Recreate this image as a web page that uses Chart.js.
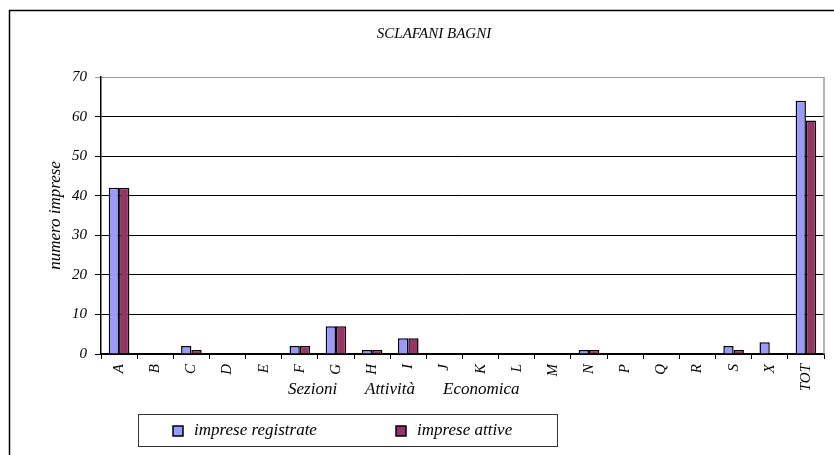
<!DOCTYPE html>
<html>
<head>
<meta charset="utf-8">
<title>SCLAFANI BAGNI</title>
<script src="https://cdn.jsdelivr.net/npm/chart.js@4"></script>
<style>
  html, body { margin: 0; padding: 0; background: #ffffff; }
  #wrap { width: 834px; height: 455px; }
</style>
</head>
<body>
<div id="wrap"><canvas id="chart" width="834" height="455"></canvas></div>
<script>
// Sezioni di attivita economica
const categories = ['A', 'B', 'C', 'D', 'E', 'F', 'G', 'H', 'I', 'J', 'K', 'L', 'M', 'N', 'P', 'Q', 'R', 'S', 'X', 'TOT'];

// numero imprese
const impreseRegistrate = [42, 0, 2, 0, 0, 2, 7, 1, 4, 0, 0, 0, 0, 1, 0, 0, 0, 2, 3, 64];
const impreseAttive     = [42, 0, 1, 0, 0, 2, 7, 1, 4, 0, 0, 0, 0, 1, 0, 0, 0, 1, 0, 59];

const yTicks = [0, 10, 20, 30, 40, 50, 60, 70];

const chartTitle = 'SCLAFANI BAGNI';
const xTitleWords = ['Sezioni', 'Attività', 'Economica'];
const yTitle = 'numero imprese';

const serif = "'Liberation Serif', 'Times New Roman', serif";

// draws frame, title, x-axis title, right plot border and the boxed legend
const decorations = {
  id: 'decorations',
  beforeDraw(chart) {
    const ctx = chart.ctx;
    ctx.save();
    ctx.fillStyle = '#ffffff';
    ctx.fillRect(0, 0, chart.width, chart.height);
    ctx.restore();
  },
  afterDraw(chart) {
    const ctx = chart.ctx;
    const area = chart.chartArea;
    ctx.save();

    // outer frame
    ctx.strokeStyle = '#000000';
    ctx.lineWidth = 1.5;
    ctx.strokeRect(9.5, 10.5, 900, 500);

    // grey right border of the plot
    ctx.strokeStyle = '#9a9a9a';
    ctx.lineWidth = 1.5;
    ctx.beginPath();
    ctx.moveTo(area.right, area.top);
    ctx.lineTo(area.right, area.bottom);
    ctx.stroke();

    // title
    ctx.fillStyle = '#000000';
    ctx.font = 'italic 15px ' + serif;
    ctx.textAlign = 'center';
    ctx.textBaseline = 'middle';
    ctx.fillText(chartTitle, 434, 34);

    // x axis title, spread like the original
    ctx.font = 'italic 17px ' + serif;
    ctx.textAlign = 'left';
    const xs = [288, 365, 443];
    xTitleWords.forEach((w, i) => ctx.fillText(w, xs[i], 390));

    // legend box
    ctx.strokeStyle = '#333333';
    ctx.lineWidth = 1;
    ctx.strokeRect(138.5, 414.5, 419, 32);
    const itemX = [173, 396];
    chart.data.datasets.forEach((ds, i) => {
      ctx.fillStyle = ds.backgroundColor;
      ctx.fillRect(itemX[i], 426, 10, 10);
      ctx.strokeStyle = '#000000';
      ctx.lineWidth = 1.5;
      ctx.strokeRect(itemX[i], 426, 10, 10);
      ctx.fillStyle = '#000000';
      ctx.font = 'italic 17px ' + serif;
      ctx.textBaseline = 'middle';
      ctx.fillText(ds.label, itemX[i] + 21, 431);
    });
    ctx.restore();
  }
};

new Chart(document.getElementById('chart'), {
  type: 'bar',
  data: {
    labels: categories,
    datasets: [
      {
        label: 'imprese registrate',
        data: impreseRegistrate,
        backgroundColor: '#9999ff',
        borderColor: '#000000',
        borderWidth: 1.5,
        borderSkipped: 'bottom',
        categoryPercentage: 0.57,
        barPercentage: 1.0
      },
      {
        label: 'imprese attive',
        data: impreseAttive,
        backgroundColor: '#993366',
        borderColor: '#000000',
        borderWidth: 1.5,
        borderSkipped: 'bottom',
        categoryPercentage: 0.57,
        barPercentage: 1.0
      }
    ]
  },
  options: {
    responsive: false,
    animation: false,
    layout: { padding: { top: 77, left: 0, right: 10, bottom: 0 } },
    plugins: {
      legend: { display: false },
      title: { display: false },
      tooltip: { enabled: false }
    },
    scales: {
      x: {
        offset: true,
        grid: {
          offset: true,
          drawOnChartArea: false,
          drawTicks: true,
          tickLength: 5,
          color: '#000000',
          lineWidth: 1
        },
        border: { color: '#000000', width: 1.5 },
        ticks: {
          autoSkip: false,
          maxRotation: 90,
          minRotation: 90,
          padding: 5,
          color: '#000000',
          font: { family: serif, size: 15, style: 'italic' }
        },
        afterFit(scale) { scale.height = 101; }
      },
      y: {
        min: 0,
        max: 70,
        afterBuildTicks(scale) { scale.ticks = yTicks.map(v => ({ value: v })); },
        grid: {
          color: ctx => (ctx.tick && ctx.tick.value === 70 ? '#9a9a9a' : '#000000'),
          lineWidth: 1,
          drawTicks: true,
          tickLength: 6
        },
        border: { color: '#000000', width: 1.5 },
        ticks: {
          padding: 8,
          color: '#000000',
          font: { family: serif, size: 15, style: 'italic' }
        },
        title: {
          display: true,
          text: yTitle,
          color: '#000000',
          padding: { top: 45, bottom: 0 },
          font: { family: serif, size: 17, style: 'italic' }
        },
        afterFit(scale) { scale.width = 101; }
      }
    }
  },
  plugins: [decorations]
});
</script>
</body>
</html>
